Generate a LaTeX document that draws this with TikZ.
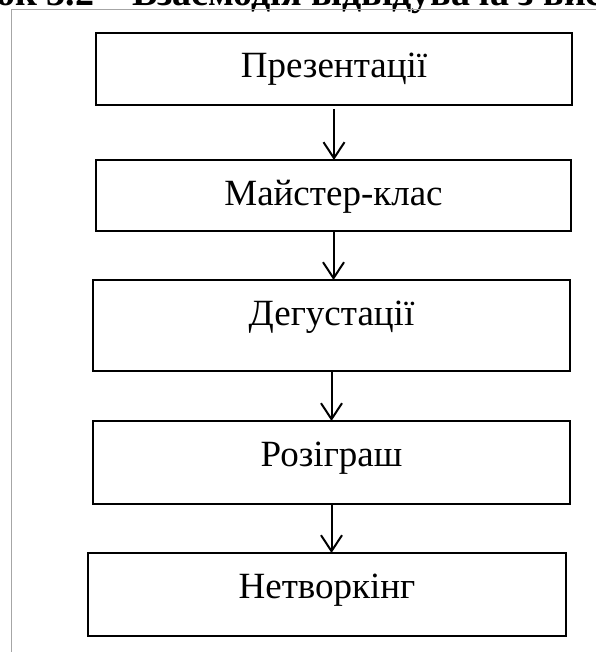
\documentclass[tikz,border=0pt]{standalone}
\usepackage{fontspec}
\setmainfont{Liberation Serif}
\usetikzlibrary{arrows.meta}

\tikzset{
  stagebox/.style={draw=black, line width=2.6pt, rectangle, inner sep=0pt,
    outer sep=0pt, font=\fontsize{37}{40}\selectfont, text height=45pt,
    anchor=base},
  flowarrow/.style={draw=black, line width=2pt,
    -{Straight Barb[length=16pt, width=21pt, line width=2pt]}},
  framebox/.style={draw=black!35, line width=1pt}
}

\begin{document}
\begin{tikzpicture}[x=1pt, y=-1pt]
  \useasboundingbox (0,0) rectangle (595,652);
  \fill[white] (0,0) rectangle (595,652);

  % caption line, partly cut by the page edge
  \node[anchor=base west, inner sep=0pt, font=\bfseries\fontsize{38}{40}\selectfont]
    (caption) at (-4,6) {ок 3.2 – Взаємодія відвідувача з виставкою};

  % thin frame around the scheme
  \draw[framebox] (11.5,660) -- (11.5,10) -- (610,10);

  % stages
  \node[stagebox, minimum width=476pt, text depth=27pt] (p1) at (334,78) {Презентації};
  \node[stagebox, minimum width=475pt, text depth=26pt] (p2) at (333.5,205) {Майстер-клас};
  \node[stagebox, minimum width=477pt, text depth=46pt] (p3) at (331.5,325) {Дегустації};
  \node[stagebox, minimum width=477pt, text depth=38pt] (p4) at (331.5,466) {Розіграш};
  \node[stagebox, minimum width=478pt, text depth=38pt] (p5) at (327,598) {Нетворкінг};

  % connectors
  \draw[flowarrow] ([yshift=-4pt]p1.south) -- (p1.south |- p2.north);
  \draw[flowarrow] (p2.south) -- (p2.south |- p3.north);
  \draw[flowarrow] (p3.south) -- (p3.south |- p4.north);
  \draw[flowarrow] (p4.south) -- (p4.south |- p5.north);
\end{tikzpicture}
\end{document}
